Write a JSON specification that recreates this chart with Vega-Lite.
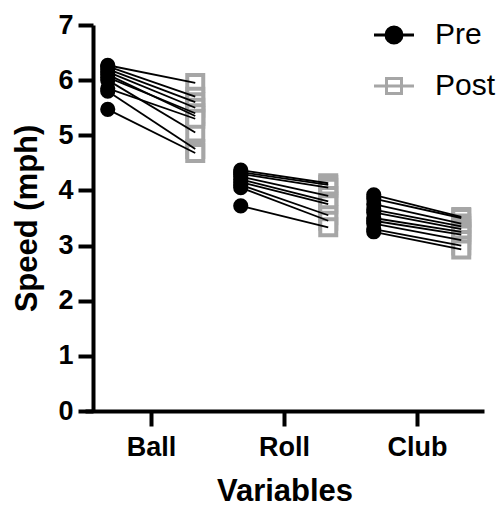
{
  "$schema": "https://vega.github.io/schema/vega-lite/v6.json",
  "autosize": {"type": "none"},
  "width": 399,
  "height": 386,
  "padding": {"left": 85, "top": 25, "right": 15, "bottom": 98},
  "background": "white",
  "config": {
    "view": {"stroke": null},
    "font": "Liberation Sans",
    "axis": {
      "domainColor": "black",
      "domainWidth": 4,
      "tickColor": "black",
      "tickWidth": 4,
      "tickSize": 15,
      "grid": false,
      "labelFont": "Liberation Sans",
      "labelFontWeight": "bold",
      "labelFontSize": 27,
      "labelColor": "black",
      "titleFont": "Liberation Sans",
      "titleFontWeight": "bold",
      "titleFontSize": 31,
      "titleColor": "black"
    },
    "legend": {
      "symbolOpacity": 1,
      "symbolStrokeWidth": 3
    }
  },
  "data": {
    "values": [
      {"variable": "Ball", "id": 1, "phase": "Pre", "speed": 6.27},
      {"variable": "Ball", "id": 1, "phase": "Post", "speed": 5.95},
      {"variable": "Ball", "id": 2, "phase": "Pre", "speed": 6.25},
      {"variable": "Ball", "id": 2, "phase": "Post", "speed": 5.7},
      {"variable": "Ball", "id": 3, "phase": "Pre", "speed": 6.2},
      {"variable": "Ball", "id": 3, "phase": "Post", "speed": 5.6},
      {"variable": "Ball", "id": 4, "phase": "Pre", "speed": 6.15},
      {"variable": "Ball", "id": 4, "phase": "Post", "speed": 5.5},
      {"variable": "Ball", "id": 5, "phase": "Pre", "speed": 6.1},
      {"variable": "Ball", "id": 5, "phase": "Post", "speed": 5.35},
      {"variable": "Ball", "id": 6, "phase": "Pre", "speed": 6.05},
      {"variable": "Ball", "id": 6, "phase": "Post", "speed": 5.4},
      {"variable": "Ball", "id": 7, "phase": "Pre", "speed": 6.0},
      {"variable": "Ball", "id": 7, "phase": "Post", "speed": 5.05},
      {"variable": "Ball", "id": 8, "phase": "Pre", "speed": 5.85},
      {"variable": "Ball", "id": 8, "phase": "Post", "speed": 5.3},
      {"variable": "Ball", "id": 9, "phase": "Pre", "speed": 5.8},
      {"variable": "Ball", "id": 9, "phase": "Post", "speed": 4.75},
      {"variable": "Ball", "id": 10, "phase": "Pre", "speed": 5.47},
      {"variable": "Ball", "id": 10, "phase": "Post", "speed": 4.68},
      {"variable": "Roll", "id": 1, "phase": "Pre", "speed": 4.37},
      {"variable": "Roll", "id": 1, "phase": "Post", "speed": 4.13},
      {"variable": "Roll", "id": 2, "phase": "Pre", "speed": 4.33},
      {"variable": "Roll", "id": 2, "phase": "Post", "speed": 4.1},
      {"variable": "Roll", "id": 3, "phase": "Pre", "speed": 4.3},
      {"variable": "Roll", "id": 3, "phase": "Post", "speed": 4.05},
      {"variable": "Roll", "id": 4, "phase": "Pre", "speed": 4.25},
      {"variable": "Roll", "id": 4, "phase": "Post", "speed": 3.9},
      {"variable": "Roll", "id": 5, "phase": "Pre", "speed": 4.2},
      {"variable": "Roll", "id": 5, "phase": "Post", "speed": 3.8},
      {"variable": "Roll", "id": 6, "phase": "Pre", "speed": 4.15},
      {"variable": "Roll", "id": 6, "phase": "Post", "speed": 3.75},
      {"variable": "Roll", "id": 7, "phase": "Pre", "speed": 4.1},
      {"variable": "Roll", "id": 7, "phase": "Post", "speed": 3.55},
      {"variable": "Roll", "id": 8, "phase": "Pre", "speed": 4.05},
      {"variable": "Roll", "id": 8, "phase": "Post", "speed": 3.45},
      {"variable": "Roll", "id": 9, "phase": "Pre", "speed": 3.72},
      {"variable": "Roll", "id": 9, "phase": "Post", "speed": 3.33},
      {"variable": "Club", "id": 1, "phase": "Pre", "speed": 3.92},
      {"variable": "Club", "id": 1, "phase": "Post", "speed": 3.52},
      {"variable": "Club", "id": 2, "phase": "Pre", "speed": 3.85},
      {"variable": "Club", "id": 2, "phase": "Post", "speed": 3.5},
      {"variable": "Club", "id": 3, "phase": "Pre", "speed": 3.75},
      {"variable": "Club", "id": 3, "phase": "Post", "speed": 3.4},
      {"variable": "Club", "id": 4, "phase": "Pre", "speed": 3.65},
      {"variable": "Club", "id": 4, "phase": "Post", "speed": 3.35},
      {"variable": "Club", "id": 5, "phase": "Pre", "speed": 3.6},
      {"variable": "Club", "id": 5, "phase": "Post", "speed": 3.3},
      {"variable": "Club", "id": 6, "phase": "Pre", "speed": 3.5},
      {"variable": "Club", "id": 6, "phase": "Post", "speed": 3.25},
      {"variable": "Club", "id": 7, "phase": "Pre", "speed": 3.45},
      {"variable": "Club", "id": 7, "phase": "Post", "speed": 3.2},
      {"variable": "Club", "id": 8, "phase": "Pre", "speed": 3.4},
      {"variable": "Club", "id": 8, "phase": "Post", "speed": 3.1},
      {"variable": "Club", "id": 9, "phase": "Pre", "speed": 3.3},
      {"variable": "Club", "id": 9, "phase": "Post", "speed": 3.0},
      {"variable": "Club", "id": 10, "phase": "Pre", "speed": 3.25},
      {"variable": "Club", "id": 10, "phase": "Post", "speed": 2.93}
    ]
  },
  "encoding": {
    "x": {
      "field": "variable",
      "type": "nominal",
      "sort": ["Ball", "Roll", "Club"],
      "scale": {"paddingInner": 0, "paddingOuter": 0},
      "axis": {"title": "Variables", "labelAngle": 0, "labelPadding": 8, "titlePadding": 16}
    },
    "xOffset": {
      "field": "phase",
      "type": "nominal",
      "sort": ["Pre", "Post"],
      "scale": {"paddingInner": 0, "paddingOuter": 0.26}
    },
    "y": {
      "field": "speed",
      "type": "quantitative",
      "scale": {"domain": [0, 7], "nice": false},
      "axis": {"title": "Speed (mph)", "values": [0, 1, 2, 3, 4, 5, 6, 7], "offset": -8, "labelPadding": 5, "titlePadding": 14}
    }
  },
  "layer": [
    {
      "transform": [{"filter": "datum.phase === 'Post'"}],
      "mark": {"type": "point", "shape": "square", "filled": false, "size": 256, "strokeWidth": 4, "color": "#a6a6a6", "fill": "white", "fillOpacity": 1, "opacity": 1}
    },
    {
      "transform": [{"filter": "datum.phase === 'Pre'"}],
      "mark": {"type": "point", "shape": "circle", "filled": true, "size": 230, "color": "black", "opacity": 1}
    },
    {
      "mark": {"type": "line", "color": "black", "strokeWidth": 1.8},
      "encoding": {
        "detail": [{"field": "variable"}, {"field": "id"}],
        "order": {"field": "phase", "sort": "descending"}
      }
    },
    {
      "mark": {"type": "point", "size": 0, "opacity": 1, "strokeWidth": 3},
      "encoding": {
        "shape": {
          "field": "phase",
          "type": "nominal",
          "sort": ["Pre", "Post"],
          "scale": {"domain": ["Pre", "Post"], "range": ["M-2,0H2M-0.8,0A0.8,0.8 0 1 1 0.8,0A0.8,0.8 0 1 1 -0.8,0Z", "M-2,0H2M-0.75,-0.75H0.75V0.75H-0.75Z"]},
          "legend": {
            "title": null,
            "orient": "none",
            "legendX": 294,
            "legendY": -5,
            "symbolSize": 400,
            "symbolStrokeWidth": 3,
            "symbolOpacity": 1,
            "labelFont": "Liberation Sans",
            "labelFontSize": 30,
            "labelColor": "black",
            "labelOffset": 26,
            "rowPadding": 21
          }
        },
        "fill": {
          "field": "phase",
          "type": "nominal",
          "sort": ["Pre", "Post"],
          "scale": {"domain": ["Pre", "Post"], "range": ["black", "white"]}
        },
        "stroke": {
          "field": "phase",
          "type": "nominal",
          "sort": ["Pre", "Post"],
          "scale": {"domain": ["Pre", "Post"], "range": ["black", "#a6a6a6"]}
        }
      }
    }
  ]
}
